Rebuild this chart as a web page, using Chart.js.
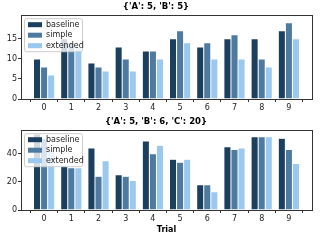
<!DOCTYPE html>
<html>
<head>
<meta charset="utf-8">
<script src="https://cdn.jsdelivr.net/npm/chart.js@4.4.0/dist/chart.umd.min.js"></script>
<style>
  body { margin: 0; background: #fff; }
  #wrap { position: relative; width: 320px; height: 240px; }
  canvas { position: absolute; left: 0; }
</style>
</head>
<body>
<div id="wrap">
  <canvas id="topChart" width="320" height="120" style="top:0"></canvas>
  <canvas id="bottomChart" width="320" height="125" style="top:115px"></canvas>
</div>
<script>
// --- data ---
const trials = ['0', '1', '2', '3', '4', '5', '6', '7', '8', '9'];
const seriesNames = ['baseline', 'simple', 'extended'];
const seriesColors = ['#1b3f5f', '#4e7aa0', '#9ac8ee'];

const titleTop = "{'A': 5, 'B': 5}";
const baselineTop = [10, 15, 9, 13, 12, 15, 13, 15, 15, 17];
const simpleTop = [8, 14, 8, 10, 12, 17, 14, 16, 10, 19];
const extendedTop = [6, 13, 7, 7, 10, 14, 10, 10, 8, 15];
const yTicksTop = [0, 5, 10, 15];

const titleBottom = "{'A': 5, 'B': 6, 'C': 20}";
const baselineBottom = [54, 31, 44, 25, 49, 36, 18, 45, 52, 51];
const simpleBottom = [51, 30, 24, 24, 40, 34, 18, 43, 52, 43];
const extendedBottom = [43, 30, 35, 21, 46, 36, 13, 44, 52, 33];
const yTicksBottom = [0, 20, 40];

const xLabel = 'Trial';
const FONT = 'DejaVu Sans';

// frame around plot + legend box in upper left (matplotlib style)
const framePlugin = {
    id: 'frame',
    afterDraw(chart) {
        const ctx = chart.ctx;
        const a = chart.chartArea;
        ctx.save();
        ctx.strokeStyle = '#333';
        ctx.lineWidth = 1;
        ctx.strokeRect(Math.round(a.left) + 0.5, Math.round(a.top) + 0.5,
            Math.round(a.right - a.left), Math.round(a.bottom - a.top));

        // legend
        const x0 = a.left + 3, y0 = a.top + 3, w = 58, h = 33;
        ctx.fillStyle = 'rgba(255,255,255,0.8)';
        ctx.strokeStyle = '#ccc';
        ctx.lineWidth = 1;
        ctx.beginPath();
        ctx.roundRect(x0 + 0.5, y0 + 0.5, w, h, 2);
        ctx.fill();
        ctx.stroke();
        ctx.font = '8px "' + FONT + '"';
        ctx.textBaseline = 'middle';
        chart.data.datasets.forEach(function(ds, i) {
            const yy = y0 + 6.5 + i * 10.5;
            ctx.fillStyle = ds.backgroundColor;
            ctx.fillRect(x0 + 4, yy - 2.5, 14, 5);
            ctx.fillStyle = '#222';
            ctx.fillText(ds.label, x0 + 22, yy);
        });
        ctx.restore();
    }
};

function makeChart(canvasId, title, values, yTicks, yMax, xHeight, padBottom, showXLabel) {
    const datasets = seriesNames.map(function(name, i) {
        return {
            label: name,
            data: values[i].map((v, k) => ({ x: k, y: v })),
            backgroundColor: seriesColors[i],
            borderColor: '#ffffff',
            borderWidth: 0.5,
            categoryPercentage: 0.78,
            barPercentage: 1.0
        };
    });

    return new Chart(document.getElementById(canvasId), {
        type: 'bar',
        data: { datasets: datasets },
        plugins: [framePlugin],
        options: {
            responsive: false,
            animation: false,
            layout: { padding: { left: 0, right: 8, top: 0, bottom: padBottom } },
            plugins: {
                legend: { display: false },
                tooltip: { enabled: false },
                title: {
                    display: true,
                    text: title,
                    color: '#000',
                    font: { family: FONT, size: 8.5, weight: 'bold' },
                    padding: { top: 2, bottom: 3 }
                }
            },
            scales: {
                x: {
                    type: 'linear',
                    offset: false,
                    min: -0.85,
                    max: 9.85,
                    afterFit: function(scale) { scale.height = xHeight; },
                    afterBuildTicks: function(scale) {
                        scale.ticks = trials.map((t, k) => ({ value: k }));
                    },
                    grid: { drawOnChartArea: false, drawTicks: true, tickLength: 3, color: '#333' },
                    border: { display: false },
                    ticks: {
                        padding: 1,
                        color: '#222',
                        font: { family: FONT, size: 8 },
                        callback: (v) => trials[v]
                    },
                    title: {
                        display: showXLabel,
                        text: xLabel,
                        color: '#000',
                        padding: { top: 1, bottom: 0 },
                        font: { family: FONT, size: 8, weight: 'bold' }
                    }
                },
                y: {
                    min: 0,
                    max: yMax,
                    afterFit: function(scale) { scale.width = 21; },
                    afterBuildTicks: function(scale) {
                        scale.ticks = yTicks.map(v => ({ value: v }));
                    },
                    grid: { drawOnChartArea: false, drawTicks: true, tickLength: 3, color: '#333' },
                    border: { display: false },
                    ticks: {
                        padding: 1,
                        color: '#222',
                        font: { family: FONT, size: 8 }
                    }
                }
            }
        }
    });
}

makeChart('topChart', titleTop, [baselineTop, simpleTop, extendedTop], yTicksTop, 20.9, 21, 0, false);
makeChart('bottomChart', titleBottom, [baselineBottom, simpleBottom, extendedBottom], yTicksBottom, 56.7, 25, 5, true);
</script>
</body>
</html>
